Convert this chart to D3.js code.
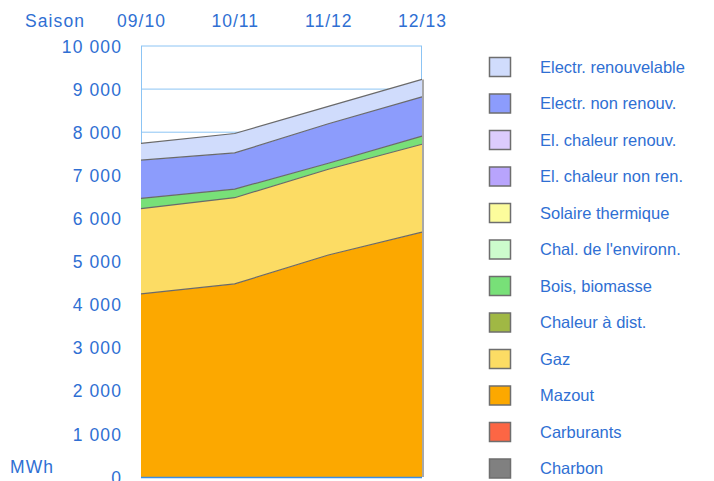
<!DOCTYPE html>
<html>
<head>
<meta charset="utf-8">
<script src="https://cdn.jsdelivr.net/npm/d3@7"></script>
<style>
  body { margin: 0; background: #fff; }
  text { font-family: "Liberation Sans", Arial, sans-serif; fill: #2f6fd3; }
</style>
</head>
<body>
<div id="chart"></div>
<script>
var width = 714;
var height = 481;

// saisons
var seasons = ['09/10', '10/11', '11/12', '12/13'];

// MWh par agent énergétique (empilés de bas en haut)
var charbon = [0, 0, 0, 0];
var carburants = [0, 0, 0, 0];
var mazout = [4250, 4480, 5150, 5680];
var gaz = [1975, 2000, 1990, 2040];
var chaleurDist = [0, 0, 0, 0];
var bois = [240, 200, 140, 190];
var chalEnv = [0, 0, 0, 0];
var solaire = [0, 0, 0, 0];
var elChaleurNonRen = [0, 0, 0, 0];
var elChaleurRen = [0, 0, 0, 0];
var electrNonRen = [885, 840, 915, 910];
var electrRen = [390, 450, 405, 405];

var yTicks = [0, 1000, 2000, 3000, 4000, 5000, 6000, 7000, 8000, 9000, 10000];

var series = [
  { name: 'Charbon', values: charbon, color: '#808080' },
  { name: 'Carburants', values: carburants, color: '#fc6644' },
  { name: 'Mazout', values: mazout, color: '#fca800' },
  { name: 'Gaz', values: gaz, color: '#fcdc64' },
  { name: 'Chaleur à dist.', values: chaleurDist, color: '#a0b844' },
  { name: 'Bois, biomasse', values: bois, color: '#78e078' },
  { name: "Chal. de l'environn.", values: chalEnv, color: '#ccfccc' },
  { name: 'Solaire thermique', values: solaire, color: '#fcfc9c' },
  { name: 'El. chaleur non ren.', values: elChaleurNonRen, color: '#b8a4fc' },
  { name: 'El. chaleur renouv.', values: elChaleurRen, color: '#dcccfc' },
  { name: 'Electr. non renouv.', values: electrNonRen, color: '#8c9cfc' },
  { name: 'Electr. renouvelable', values: electrRen, color: '#d0dcfc' }
];

var plot = { left: 141, right: 422, top: 46, bottom: 477 };

var svg = d3.select('#chart')
  .append('svg')
  .attr('width', width)
  .attr('height', height);

var x = d3.scalePoint()
  .domain(seasons)
  .range([plot.left, plot.right]);

var y = d3.scaleLinear()
  .domain([0, 10000])
  .range([plot.bottom, plot.top]);

// table pour d3.stack
var table = seasons.map(function(s, i) {
  var row = { season: s };
  series.forEach(function(d) { row[d.name] = d.values[i]; });
  return row;
});

var stacked = d3.stack()
  .keys(series.map(function(d) { return d.name; }))(table);

// grille
svg.append('g')
  .selectAll('line')
  .data(yTicks.slice(1))
  .enter()
  .append('line')
  .attr('x1', plot.left)
  .attr('x2', plot.right)
  .attr('y1', function(d) { return y(d); })
  .attr('y2', function(d) { return y(d); })
  .style('stroke', '#8cc4f4')
  .style('stroke-width', 1);

svg.append('line')
  .attr('x1', plot.left + 0.5).attr('x2', plot.left + 0.5)
  .attr('y1', plot.top).attr('y2', plot.bottom)
  .style('stroke', '#8cc4f4');
svg.append('line')
  .attr('x1', plot.right - 0.5).attr('x2', plot.right - 0.5)
  .attr('y1', plot.top).attr('y2', plot.bottom)
  .style('stroke', '#8cc4f4');

var area = d3.area()
  .x(function(d) { return x(d.data.season); })
  .y0(function(d) { return y(d[0]); })
  .y1(function(d) { return y(d[1]); });

var topLine = d3.line()
  .x(function(d) { return x(d.data.season); })
  .y(function(d) { return y(d[1]); });

svg.append('g')
  .selectAll('path')
  .data(stacked)
  .enter()
  .append('path')
  .attr('d', area)
  .style('fill', function(d, i) { return series[i].color; });

svg.append('g')
  .selectAll('path')
  .data(stacked.filter(function(d, i) { return d3.sum(series[i].values) > 0; }))
  .enter()
  .append('path')
  .attr('d', topLine)
  .style('fill', 'none')
  .style('stroke', '#6a6a6a')
  .style('stroke-width', 1.2);

// ombre à droite
svg.append('line')
  .attr('x1', plot.right + 1).attr('x2', plot.right + 1)
  .attr('y1', y(d3.sum(series, function(d) { return d.values[3]; }))).attr('y2', plot.bottom)
  .style('stroke', '#a8a8a8')
  .style('stroke-width', 2);

svg.append('line')
  .attr('x1', plot.left).attr('x2', plot.right)
  .attr('y1', plot.bottom + 0.5).attr('y2', plot.bottom + 0.5)
  .style('stroke', '#3a8ee6')
  .style('stroke-width', 1.5);

// axe Y
var yAxis = svg.append('g')
  .attr('transform', 'translate(' + plot.left + ',0)')
  .call(d3.axisLeft(y)
    .tickValues(yTicks)
    .tickSize(0)
    .tickPadding(19)
    .tickFormat(function(d) { return d3.format(',')(d).replace(',', ' '); }));
yAxis.select('.domain').remove();
yAxis.selectAll('text')
  .style('font-size', '17.5px')
  .style('letter-spacing', '1.1px')
  .attr('dy', '0.35em')
  .style('fill', '#2f6fd3');

// axe X en haut
var xAxis = svg.append('g')
  .attr('transform', 'translate(0,27)')
  .call(d3.axisTop(x).tickSize(0).tickPadding(0));
xAxis.select('.domain').remove();
xAxis.selectAll('text')
  .style('font-size', '17.5px')
  .style('letter-spacing', '1px')
  .style('fill', '#2f6fd3');

svg.append('text')
  .attr('x', 25)
  .attr('y', 27)
  .style('font-size', '17.5px')
  .style('letter-spacing', '1.1px')
  .text('Saison');

svg.append('text')
  .attr('x', 10)
  .attr('y', 473)
  .style('font-size', '17.5px')
  .style('letter-spacing', '1.1px')
  .text('MWh');

// légende
var legendItems = series.slice().reverse();
var legend = svg.append('g')
  .selectAll('g')
  .data(legendItems)
  .enter()
  .append('g')
  .attr('transform', function(d, i) { return 'translate(489,' + (57 + i * 36.5) + ')'; });

legend.append('rect')
  .attr('width', 21)
  .attr('height', 19)
  .attr('x', 0.5)
  .attr('y', 0.5)
  .style('fill', function(d) { return d.color; })
  .style('stroke', '#6e6e6e')
  .style('stroke-width', 1.5);

legend.append('text')
  .attr('x', 51)
  .attr('y', 10)
  .attr('dy', '0.35em')
  .style('font-size', '16.5px')
  .text(function(d) { return d.name; });
</script>
</body>
</html>
